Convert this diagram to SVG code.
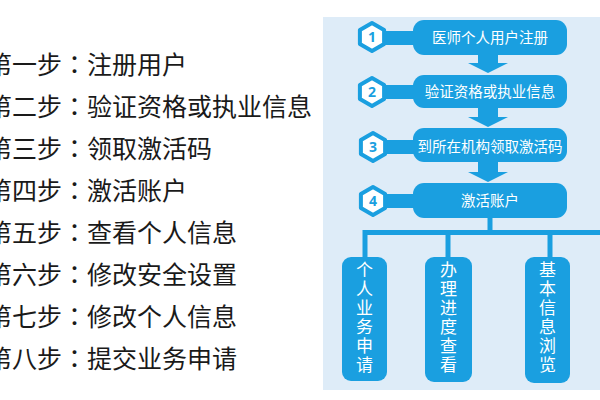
<svg xmlns="http://www.w3.org/2000/svg" xmlns:xlink="http://www.w3.org/1999/xlink" width="600" height="400" viewBox="0 0 600 400">
<style>
.step{font-family:"Noto Sans CJK SC","Noto Sans",sans-serif;font-size:25px;fill:#1a1a1a}
.colon{font-family:"Noto Sans CJK JP","Noto Sans CJK SC",sans-serif}
.bar{fill:#1a9fe0}
.hex{fill:#ffffff;stroke:#1a9fe0;stroke-width:4;stroke-linejoin:round}
.num{font-family:"Noto Sans","DejaVu Sans",sans-serif;font-size:14px;font-weight:bold;fill:#1a9fe0;text-anchor:middle}
.bt{font-family:"Noto Sans CJK SC",sans-serif;font-size:14.5px;fill:#ffffff;text-anchor:middle}
.vt{font-family:"Noto Sans CJK SC",sans-serif;font-size:17px;fill:#ffffff;text-anchor:middle}
.ln{stroke:#1a9fe0;stroke-width:5;fill:none}
.arr{fill:#1a9fe0}
</style>
<defs>
<polygon id="hx" points="0,-14 12.1,-7 12.1,7 0,14 -12.1,7 -12.1,-7"/>
</defs>
<rect x="0" y="0" width="600" height="400" fill="#ffffff"/>
<g id="steps">
<text class="step" x="-13" y="74">第一步<tspan class="colon">：</tspan>注册用户</text>
<text class="step" x="-13" y="116">第二步<tspan class="colon">：</tspan>验证资格或执业信息</text>
<text class="step" x="-13" y="158">第三步<tspan class="colon">：</tspan>领取激活码</text>
<text class="step" x="-13" y="200">第四步<tspan class="colon">：</tspan>激活账户</text>
<text class="step" x="-13" y="242">第五步<tspan class="colon">：</tspan>查看个人信息</text>
<text class="step" x="-13" y="284">第六步<tspan class="colon">：</tspan>修改安全设置</text>
<text class="step" x="-13" y="326">第七步<tspan class="colon">：</tspan>修改个人信息</text>
<text class="step" x="-13" y="368">第八步<tspan class="colon">：</tspan>提交业务申请</text>
</g>
<rect id="panel" x="323" y="17" width="277" height="373" fill="#deecf8"/>
<g id="connectors">
<polygon class="arr" points="478,54 498,54 498,63 508,63 488,73 468,63 478,63"/>
<polygon class="arr" points="478,108 498,108 498,117 508,117 488,127 468,117 478,117"/>
<polygon class="arr" points="478,162 498,162 498,172 508,172 488,182 468,172 478,172"/>
<path class="ln" d="M490 217 V232.5 M365 259 V232.5 H600 M448 259 V232.5 M550 259 V232.5"/>
</g>
<g id="node1">
<rect class="bar" x="380" y="31" width="40" height="14"/>
<rect class="bar" x="413" y="20" width="154" height="35" rx="11"/>
<use xlink:href="#hx" class="hex" x="372" y="37"/>
<text class="num" x="372" y="42">1</text>
<text class="bt" x="490" y="43">医师个人用户注册</text>
</g>
<g id="node2">
<rect class="bar" x="380" y="85" width="40" height="14"/>
<rect class="bar" x="413" y="75" width="154" height="33" rx="11"/>
<use xlink:href="#hx" class="hex" x="372" y="92"/>
<text class="num" x="372" y="97">2</text>
<text class="bt" x="490" y="97">验证资格或执业信息</text>
</g>
<g id="node3">
<rect class="bar" x="380" y="140" width="40" height="14"/>
<rect class="bar" x="413" y="128" width="154" height="34" rx="11"/>
<use xlink:href="#hx" class="hex" x="373" y="147"/>
<text class="num" x="373" y="152">3</text>
<text class="bt" x="490" y="152">到所在机构领取激活码</text>
</g>
<g id="node4">
<rect class="bar" x="380" y="194" width="40" height="14"/>
<rect class="bar" x="413" y="183" width="154" height="35" rx="11"/>
<use xlink:href="#hx" class="hex" x="373" y="201"/>
<text class="num" x="373" y="206">4</text>
<text class="bt" x="490" y="206">激活账户</text>
</g>
<g id="box1">
<rect class="bar" x="342" y="257" width="45" height="124" rx="9"/>
<text class="vt" x="364.5" y="276">个</text>
<text class="vt" x="364.5" y="295">人</text>
<text class="vt" x="364.5" y="314">业</text>
<text class="vt" x="364.5" y="333">务</text>
<text class="vt" x="364.5" y="352">申</text>
<text class="vt" x="364.5" y="371">请</text>
</g>
<g id="box2">
<rect class="bar" x="425" y="257" width="47" height="125" rx="9"/>
<text class="vt" x="448.5" y="276">办</text>
<text class="vt" x="448.5" y="295">理</text>
<text class="vt" x="448.5" y="314">进</text>
<text class="vt" x="448.5" y="333">度</text>
<text class="vt" x="448.5" y="352">查</text>
<text class="vt" x="448.5" y="371">看</text>
</g>
<g id="box3">
<rect class="bar" x="525" y="257" width="45" height="126" rx="9"/>
<text class="vt" x="547.5" y="276">基</text>
<text class="vt" x="547.5" y="295">本</text>
<text class="vt" x="547.5" y="314">信</text>
<text class="vt" x="547.5" y="333">息</text>
<text class="vt" x="547.5" y="352">浏</text>
<text class="vt" x="547.5" y="371">览</text>
</g>
</svg>
